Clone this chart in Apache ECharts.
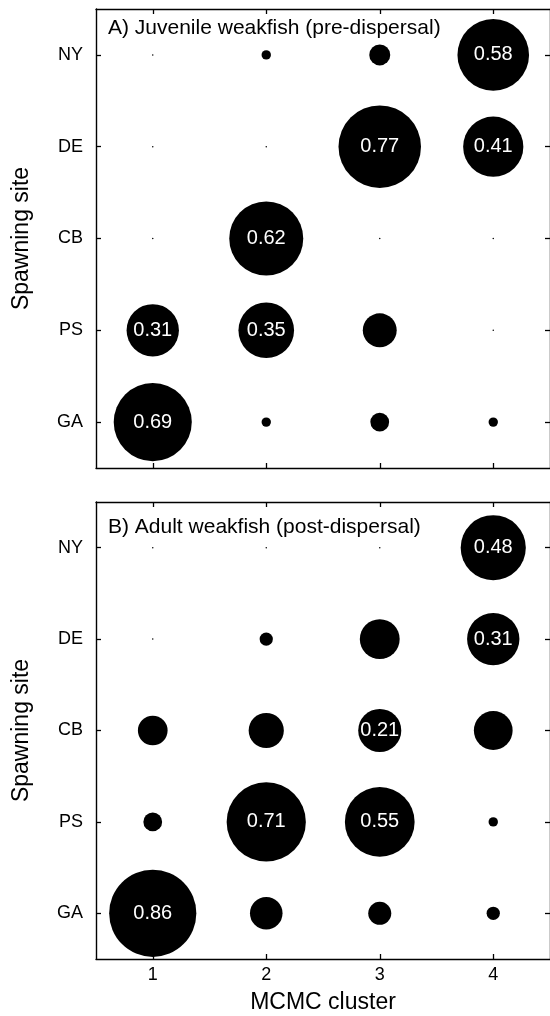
<!DOCTYPE html>
<html>
<head>
<meta charset="utf-8">
<script src="https://cdn.jsdelivr.net/npm/echarts@6/dist/echarts.min.js"></script>
<style>
html,body{margin:0;padding:0;background:#fff;}
#c{width:550px;height:1016px;}
</style>
</head>
<body>
<div id="c"></div>
<script>
// ---- data ----
const clusters = ['1', '2', '3', '4'];
const sites = ['GA', 'PS', 'CB', 'DE', 'NY'];

// A) Juvenile weakfish (pre-dispersal): proportion per site, clusters 1..4
const juvGA = [0.69, 0.01, 0.04, 0.01];
const juvPS = [0.31, 0.35, 0.13, 0.00];
const juvCB = [0.00, 0.62, 0.00, 0.00];
const juvDE = [0.00, 0.00, 0.77, 0.41];
const juvNY = [0.00, 0.01, 0.05, 0.58];

// B) Adult weakfish (post-dispersal)
const adGA = [0.86, 0.12, 0.06, 0.02];
const adPS = [0.04, 0.71, 0.55, 0.01];
const adCB = [0.10, 0.14, 0.21, 0.17];
const adDE = [0.00, 0.02, 0.18, 0.31];
const adNY = [0.00, 0.00, 0.00, 0.48];

const titleA = 'A) Juvenile weakfish (pre-dispersal)';
const titleB = 'B) Adult weakfish (post-dispersal)';

// ---- build ----
function toPoints(rows) {
  const pts = [];
  rows.forEach((row, si) => {
    row.forEach((v, ci) => pts.push([ci, si, v]));
  });
  return pts;
}
const juvData = toPoints([juvGA, juvPS, juvCB, juvDE, juvNY]);
const adData = toPoints([adGA, adPS, adCB, adDE, adNY]);

const FONT = '"Liberation Sans", Arial, Helvetica, sans-serif';
const K = 94;
const tick = {show: true, inside: true, length: 5, alignWithLabel: true, lineStyle: {color: '#000', width: 1.3}};
const line = {show: true, onZero: false, lineStyle: {color: '#000', width: 1.4}};

function xAx(gi, pos, labels) {
  return {
    type: 'category', data: clusters, gridIndex: gi, position: pos,
    boundaryGap: true,
    axisLine: line, axisTick: tick, splitLine: {show: false},
    axisLabel: {show: labels, color: '#000', fontSize: 18, fontFamily: FONT, margin: 7},
    name: labels ? 'MCMC cluster' : '', nameLocation: 'middle', nameGap: 32,
    nameTextStyle: {color: '#000', fontSize: 23, fontFamily: FONT}
  };
}
function yAx(gi, pos, labels) {
  return {
    type: 'category', data: sites, gridIndex: gi, position: pos,
    boundaryGap: true,
    axisLine: line, axisTick: tick, splitLine: {show: false},
    axisLabel: {show: labels, color: '#000', fontSize: 18, fontFamily: FONT, margin: 13},
    name: labels ? 'Spawning site' : '', nameLocation: 'middle', nameGap: 63, nameRotate: 90,
    nameTextStyle: {color: '#000', fontSize: 23, fontFamily: FONT}
  };
}
function series(data, xi, yi) {
  return {
    type: 'scatter', data: data, xAxisIndex: xi, yAxisIndex: yi,
    symbol: 'circle',
    symbolSize: d => Math.max(1.5, K * Math.sqrt(d[2])),
    itemStyle: {color: '#000', opacity: 1},
    label: {
      show: true, position: 'inside', color: '#fff', fontSize: 20, fontFamily: FONT,
      formatter: p => (p.data[2] >= 0.2 ? p.data[2].toFixed(2) : '')
    },
    emphasis: {disabled: true},
    silent: true
  };
}

const chart = echarts.init(document.getElementById('c'), null, {renderer: 'canvas'});
chart.setOption({
  backgroundColor: '#fff',
  animation: false,
  title: [
    {text: titleA, left: 108, top: 18, padding: 0, textStyle: {color: '#000', fontSize: 21, fontWeight: 'normal', fontFamily: FONT}},
    {text: titleB, left: 108, top: 517, padding: 0, textStyle: {color: '#000', fontSize: 21, fontWeight: 'normal', fontFamily: FONT}}
  ],
  grid: [
    {left: 96, top: 9, width: 458, height: 459},
    {left: 96, top: 502, width: 458, height: 457}
  ],
  xAxis: [xAx(0, 'bottom', false), xAx(0, 'top', false), xAx(1, 'bottom', true), xAx(1, 'top', false)],
  yAxis: [yAx(0, 'left', true), yAx(0, 'right', false), yAx(1, 'left', true), yAx(1, 'right', false)],
  series: [series(juvData, 0, 0), series(adData, 2, 2)]
});
</script>
</body>
</html>
